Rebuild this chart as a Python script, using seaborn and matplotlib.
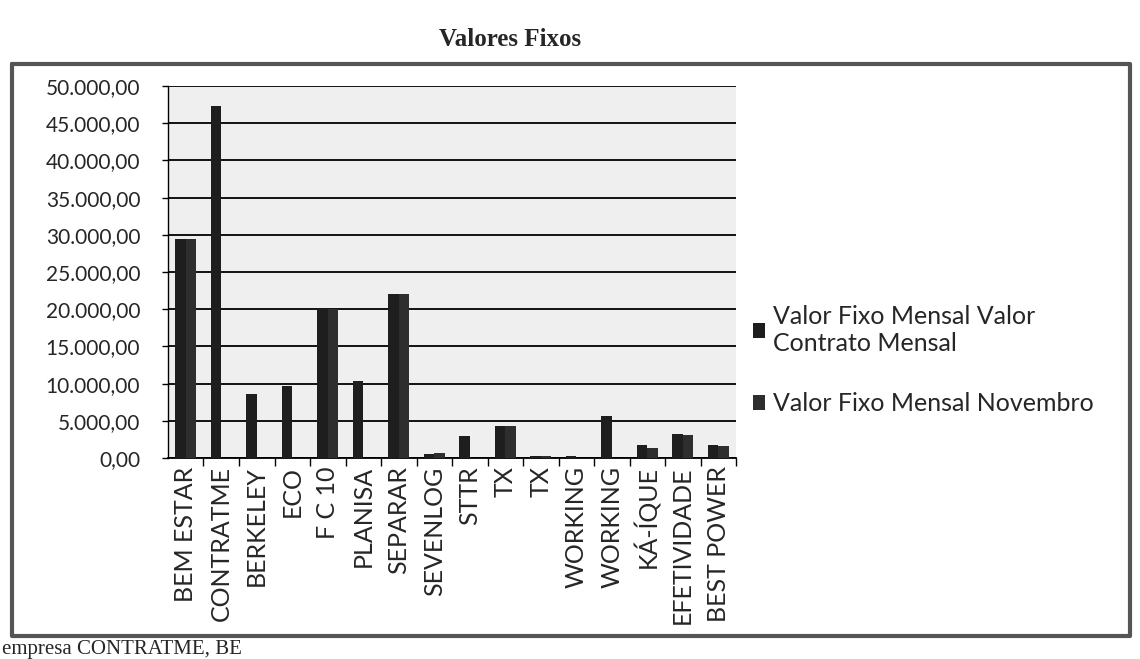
import pandas as pd
import seaborn as sns
import matplotlib.pyplot as plt
from matplotlib.lines import Line2D
from matplotlib.ticker import FuncFormatter, FixedLocator

# values
empresas = ["BEM ESTAR", "CONTRATME", "BERKELEY", "ECO", "F C 10", "PLANISA",
            "SEPARAR", "SEVENLOG", "STTR", "TX", "TX", "WORKING", "WORKING",
            "KÁ-ÍQUE", "EFETIVIDADE", "BEST POWER"]
valor_contrato = [29500, 47300, 8650, 9700, 20000, 10400, 22000, 500, 3000,
                  4300, 300, 300, 5700, 1750, 3250, 1750]
valor_novembro = [29500, 0, 0, 0, 20000, 0, 22000, 700, 0,
                  4300, 300, 0, 0, 1350, 3100, 1600]
series = ["Valor Fixo Mensal Valor\nContrato Mensal", "Valor Fixo Mensal Novembro"]
y_ticks = list(range(0, 50001, 5000))

# duplicated names (TX, WORKING) -> use position index as x
df = pd.DataFrame({
    "pos": list(range(len(empresas))) * 2,
    "valor": valor_contrato + valor_novembro,
    "serie": [series[0]] * len(empresas) + [series[1]] * len(empresas),
})

sns.set_theme(style="white")
plt.rcParams["font.family"] = ["Lato", "DejaVu Sans"]

fig = plt.figure(figsize=(11.4, 6.59), dpi=100)
ax = fig.add_axes([168 / 1140, 1 - 458 / 659, (736 - 168) / 1140, (458 - 86) / 659])
ax.set_facecolor("#efefef")

sns.barplot(data=df, x="pos", y="valor", hue="serie", hue_order=series,
            palette=["#1e1e1e", "#2e2e2e"], width=0.6, ax=ax,
            edgecolor="none", legend=True, zorder=3)

ax.set_xlim(-0.5, len(empresas) - 0.5)
ax.set_ylim(0, 50000)
ax.set_yticks(y_ticks)
ax.yaxis.set_major_formatter(FuncFormatter(
    lambda v, p: f"{v:,.2f}".replace(",", "X").replace(".", ",").replace("X", ".")))
for y in y_ticks:
    ax.axhline(y, color="black", lw=1.3, zorder=2)

ax.set_xticks(range(len(empresas)))
ax.set_xticklabels(empresas, rotation=90, fontsize=18)
ax.tick_params(axis="x", which="major", length=0, pad=6)
ax.xaxis.set_minor_locator(FixedLocator([i + 0.5 for i in range(len(empresas))]))
ax.tick_params(axis="x", which="minor", bottom=True, length=6, width=1, color="black")
ax.tick_params(axis="y", left=True, length=4, width=1, color="black",
               labelsize=15, pad=16)
ax.set_xlabel("")
ax.set_ylabel("")

for s in ["top", "right"]:
    ax.spines[s].set_visible(False)
ax.spines["left"].set_color("black")
ax.spines["bottom"].set_color("black")
ax.spines["left"].set_linewidth(1)
ax.spines["bottom"].set_linewidth(1.3)

leg = ax.legend(loc="center left", bbox_to_anchor=(0.99, 0.263), frameon=False,
                fontsize=18, handlelength=0.5, handleheight=0.5,
                handletextpad=0.3, labelspacing=1.5)

fig.text(510 / 1140, 1 - 40 / 659, "Valores Fixos", ha="center", va="center",
         fontsize=18, fontweight="bold", family="Liberation Serif")

# outer frame of the scanned chart
frame_x = [12 / 1140, 1130 / 1140, 1130 / 1140, 12 / 1140, 12 / 1140]
frame_y = [1 - 64 / 659, 1 - 64 / 659, 1 - 636 / 659, 1 - 636 / 659, 1 - 64 / 659]
fig.add_artist(Line2D(frame_x, frame_y, transform=fig.transFigure,
                      color="#555555", lw=3))

fig.text(2 / 1140, 1 - 654 / 659, "empresa CONTRATME, BE", ha="left", va="baseline",
         fontsize=15, family="Liberation Serif")

plt.savefig("out.png", dpi=100)
